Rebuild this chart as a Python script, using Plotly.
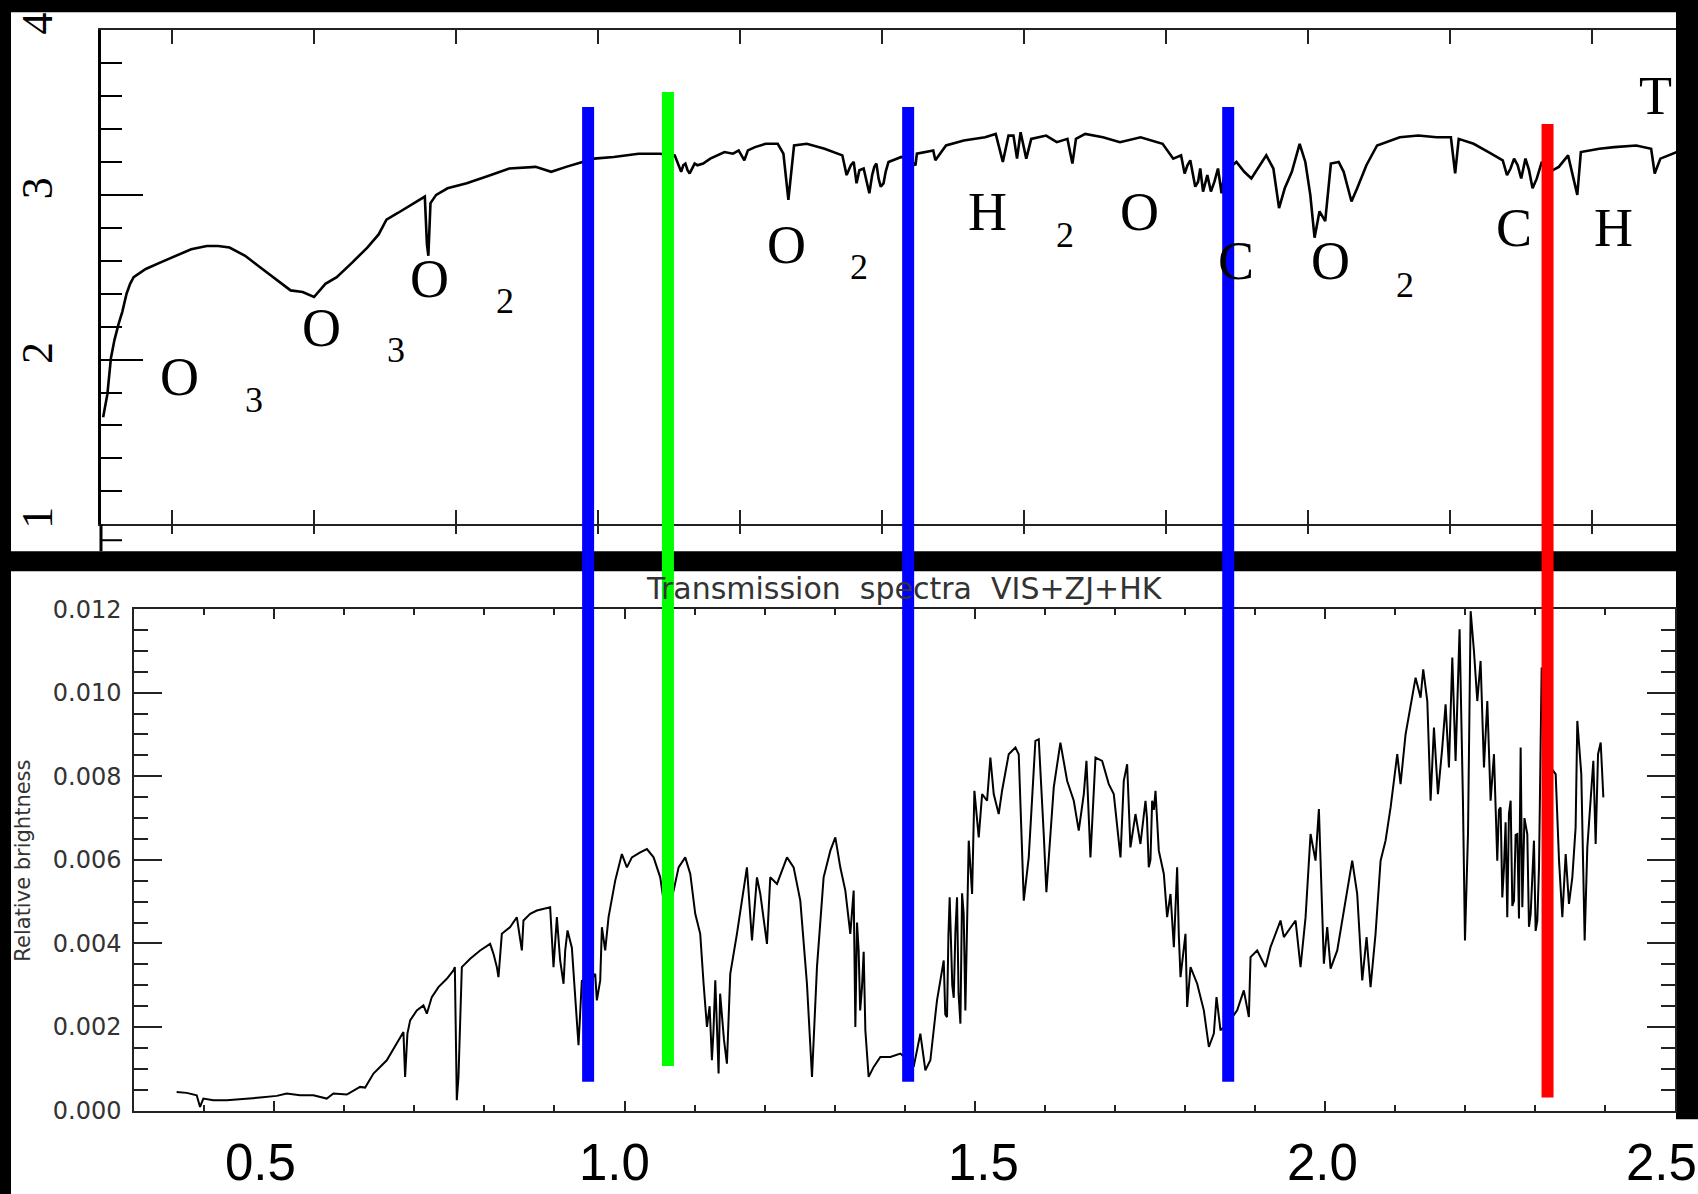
import plotly.graph_objects as go

W, H = 1698, 1194

# ---------------- data ----------------
# Upper panel: Earth spectrum with molecular bands (wavelength in micron, flux units of the original plot)
top_wavelength = [
    0.303, 0.309, 0.314, 0.319, 0.325, 0.330, 0.336, 0.341, 0.346, 0.363, 0.384, 0.406, 0.427, 0.449,
    0.465, 0.481, 0.503, 0.524, 0.546, 0.567, 0.584, 0.600, 0.616, 0.632, 0.654, 0.675, 0.691, 0.702,
    0.718, 0.740, 0.756, 0.759, 0.761, 0.764, 0.772, 0.788, 0.815, 0.842, 0.875, 0.912, 0.934, 0.955,
    0.977, 0.994, 1.022, 1.057, 1.087, 1.108, 1.120, 1.126, 1.132, 1.140, 1.148, 1.158, 1.178, 1.190,
    1.198, 1.206, 1.211, 1.221, 1.236, 1.253, 1.261, 1.268, 1.276, 1.294, 1.319, 1.344, 1.356, 1.364,
    1.368, 1.374, 1.382, 1.389, 1.395, 1.402, 1.409, 1.427, 1.440, 1.447, 1.449, 1.472, 1.475, 1.490,
    1.515, 1.545, 1.560, 1.570, 1.578, 1.585, 1.590, 1.595, 1.603, 1.610, 1.631, 1.646, 1.661, 1.668,
    1.673, 1.686, 1.711, 1.735, 1.764, 1.795, 1.821, 1.830, 1.837, 1.845, 1.852, 1.858, 1.868, 1.878,
    1.885, 1.899, 1.910, 1.920, 1.941, 1.951, 1.959, 1.967, 1.977, 1.988, 1.996, 2.003, 2.009, 2.016,
    2.024, 2.032, 2.043, 2.050, 2.061, 2.069, 2.082, 2.097, 2.129, 2.155, 2.181, 2.201, 2.207, 2.212,
    2.233, 2.254, 2.274, 2.285, 2.295, 2.306, 2.316, 2.329, 2.340, 2.353, 2.366, 2.379, 2.384, 2.410,
    2.431, 2.462, 2.483, 2.488, 2.496, 2.519,
]
top_flux = [
    1.65, 1.79, 2.01, 2.12, 2.22, 2.29, 2.40, 2.46, 2.50, 2.55, 2.59, 2.63, 2.67, 2.69,
    2.69, 2.68, 2.63, 2.56, 2.49, 2.42, 2.41, 2.38, 2.46, 2.50, 2.59, 2.68, 2.76, 2.85,
    2.89, 2.95, 2.99, 2.70, 2.63, 2.95, 3.00, 3.04, 3.07, 3.11, 3.16, 3.17, 3.14, 3.17,
    3.20, 3.22, 3.23, 3.25, 3.25, 3.24, 3.18, 3.15, 3.16, 3.18, 3.19, 3.22, 3.26, 3.25,
    3.27, 3.21, 3.27, 3.29, 3.31, 3.31, 3.25, 2.97, 3.30, 3.31, 3.28, 3.24, 3.18, 3.07,
    3.15, 3.16, 3.01, 3.17, 3.10, 3.07, 3.20, 3.23, 3.21, 3.18, 3.25, 3.27, 3.21, 3.30,
    3.33, 3.35, 3.37, 3.20, 3.36, 3.36, 3.22, 3.38, 3.22, 3.34, 3.36, 3.32, 3.34, 3.19,
    3.34, 3.37, 3.35, 3.32, 3.35, 3.31, 3.24, 3.18, 3.14, 3.08, 3.02, 3.12, 3.08, 3.01,
    3.15, 3.20, 3.14, 3.10, 3.24, 3.16, 2.92, 3.04, 3.14, 3.31, 3.20, 3.00, 2.74, 2.90,
    2.84, 3.19, 3.20, 3.14, 2.96, 3.04, 3.18, 3.30, 3.35, 3.36, 3.35, 3.35, 3.13, 3.34,
    3.31, 3.26, 3.21, 3.16, 3.18, 3.22, 3.04, 3.20, 3.14, 3.17, 3.24, 3.00, 3.26, 3.28,
    3.29, 3.30, 3.28, 3.13, 3.22, 3.26,
]
# extra hand-read points inside the dense absorption regions of the upper spectrum
top_noise_wavelength = [1.117, 1.123, 1.129, 1.136, 1.350, 1.360, 1.378, 1.386, 1.392, 1.398, 1.405,
                        1.810, 1.826, 1.834, 1.841, 1.848, 1.863, 1.873, 1.881,
                        2.280, 2.290, 2.300, 2.311, 2.322]
top_noise_flux = [3.14, 3.19, 3.13, 3.19, 3.12, 3.20, 3.08, 3.12, 3.19, 3.05, 3.14,
                  3.22, 3.13, 3.21, 3.05, 3.16, 3.02, 3.16, 3.10,
                  3.12, 3.22, 3.10, 3.15, 3.10]

# Lower panel: transmission spectrum VIS+ZJ+HK (wavelength in micron, relative brightness)
bottom_wavelength = [
    0.3605, 0.3748, 0.3891, 0.3939, 0.3986, 0.4129, 0.4319, 0.4557, 0.4796, 0.5034, 0.5176, 0.5367,
    0.5557, 0.5748, 0.5843, 0.6034, 0.6224, 0.6296, 0.6415, 0.6605, 0.6796, 0.6843, 0.6867, 0.6900,
    0.6939, 0.7034, 0.7129, 0.7177, 0.7248, 0.7343, 0.7462, 0.7557, 0.7577, 0.7605, 0.7629, 0.7677,
    0.7796, 0.7938, 0.8081, 0.8129, 0.8177, 0.8200, 0.8248, 0.8367, 0.8462, 0.8534, 0.8557, 0.8653,
    0.8748, 0.8843, 0.8938, 0.8986, 0.9034, 0.9081, 0.9129, 0.9153, 0.9186, 0.9248, 0.9296, 0.9343,
    0.9391, 0.9480, 0.9581, 0.9605, 0.9653, 0.9677, 0.9724, 0.9772, 0.9867, 0.9962, 1.0034, 1.0105,
    1.0224, 1.0320, 1.0415, 1.0510, 1.0558, 1.0624, 1.0701, 1.0772, 1.0867, 1.0939, 1.1010, 1.1081,
    1.1129, 1.1177, 1.1248, 1.1296, 1.1343, 1.1391, 1.1462, 1.1510, 1.1605, 1.1677, 1.1748, 1.1820,
    1.1891, 1.1939, 1.2034, 1.2081, 1.2177, 1.2320, 1.2415, 1.2510, 1.2605, 1.2677, 1.2748, 1.2843,
    1.2939, 1.3010, 1.3081, 1.3153, 1.3224, 1.3272, 1.3296, 1.3343, 1.3391, 1.3439, 1.3486, 1.3558,
    1.3653, 1.3796, 1.3939, 1.4050, 1.4129, 1.4224, 1.4296, 1.4367, 1.4462, 1.4558, 1.4605, 1.4643,
    1.4701, 1.4748, 1.4796, 1.4843, 1.4867, 1.4915, 1.4963, 1.4996, 1.5058, 1.5106, 1.5177, 1.5224,
    1.5272, 1.5343, 1.5391, 1.5486, 1.5582, 1.5629, 1.5701, 1.5772, 1.5867, 1.5915, 1.5986, 1.6024,
    1.6082, 1.6129, 1.6224, 1.6320, 1.6415, 1.6486, 1.6558, 1.6596, 1.6653, 1.6725, 1.6820, 1.6915,
    1.6986, 1.7082, 1.7129, 1.7177, 1.7224, 1.7296, 1.7367, 1.7439, 1.7486, 1.7534, 1.7582, 1.7629,
    1.7701, 1.7748, 1.7796, 1.7844, 1.7891, 1.7939, 1.8010, 1.8034, 1.8082, 1.8177, 1.8272, 1.8344,
    1.8415, 1.8453, 1.8510, 1.8620, 1.8748, 1.8843, 1.8915, 1.8939, 1.9034, 1.9153, 1.9224, 1.9367,
    1.9415, 1.9510, 1.9582, 1.9653, 1.9725, 1.9796, 1.9867, 1.9915, 1.9939, 1.9986, 2.0034, 2.0082,
    2.0177, 2.0272, 2.0320, 2.0391, 2.0462, 2.0534, 2.0596, 2.0653, 2.0724, 2.0796, 2.0867, 2.0939,
    2.1034, 2.1081, 2.1153, 2.1224, 2.1296, 2.1367, 2.1405, 2.1463, 2.1510, 2.1558, 2.1615, 2.1677,
    2.1724, 2.1772, 2.1820, 2.1867, 2.1924, 2.1972, 2.2001, 2.2044, 2.2082, 2.2129, 2.2177, 2.2224,
    2.2272, 2.2320, 2.2367, 2.2415, 2.2462, 2.2486, 2.2510, 2.2534, 2.2558, 2.2581, 2.2605, 2.2629,
    2.2653, 2.2677, 2.2701, 2.2724, 2.2748, 2.2772, 2.2796, 2.2820, 2.2850, 2.2891, 2.2915, 2.2939,
    2.2986, 2.3010, 2.3034, 2.3058, 2.3096, 2.3176, 2.3224, 2.3296, 2.3344, 2.3391, 2.3439, 2.3486,
    2.3534, 2.3581, 2.3605, 2.3662, 2.3710, 2.3748, 2.3796, 2.3834, 2.3867, 2.3901, 2.3939, 2.3977,
]
bottom_brightness = [
    0.000449, 0.000426, 0.000370, 0.000090, 0.000290, 0.000250, 0.000250, 0.000275, 0.000314, 0.000354, 0.000410, 0.000370,
    0.000370, 0.000290, 0.000410, 0.000386, 0.000569, 0.000553, 0.000888, 0.001206, 0.001723, 0.001883, 0.000808, 0.001843,
    0.002161, 0.002400, 0.002519, 0.002320, 0.002718, 0.002957, 0.003156, 0.003355, 0.003435, 0.000250, 0.000808, 0.003435,
    0.003634, 0.003833, 0.003992, 0.003753, 0.003435, 0.003196, 0.004231, 0.004391, 0.004629, 0.003833, 0.004550, 0.004709,
    0.004788, 0.004828, 0.004868, 0.003435, 0.004630, 0.003594, 0.003037, 0.003833, 0.004311, 0.003900, 0.002639, 0.001564,
    0.003117, 0.003000, 0.003276, 0.002639, 0.003117, 0.004390, 0.003833, 0.004630, 0.005504, 0.006140, 0.005822, 0.006061,
    0.006181, 0.006260, 0.006061, 0.005583, 0.005026, 0.004800, 0.005265, 0.005822, 0.006061, 0.005663, 0.004709, 0.004231,
    0.003037, 0.002002, 0.001206, 0.003117, 0.000888, 0.002240, 0.001126, 0.003276, 0.004231, 0.005026, 0.005822, 0.004072,
    0.005583, 0.005185, 0.003992, 0.005583, 0.005424, 0.006061, 0.005822, 0.005026, 0.003037, 0.000808, 0.003435, 0.005583,
    0.006221, 0.006539, 0.005822, 0.005265, 0.004231, 0.005265, 0.002002, 0.003833, 0.002957, 0.001922, 0.000808, 0.001047,
    0.001286, 0.001286, 0.001365, 0.001200, 0.001047, 0.001843, 0.000967, 0.001206, 0.002639, 0.003594, 0.002240, 0.005106,
    0.002700, 0.005106, 0.002082, 0.004709, 0.002400, 0.006460, 0.005185, 0.007654, 0.006539, 0.007574, 0.007415, 0.008449,
    0.007574, 0.007097, 0.007654, 0.008529, 0.008688, 0.008529, 0.005026, 0.006061, 0.008847, 0.008887, 0.006619, 0.005225,
    0.006619, 0.007733, 0.008807, 0.007893, 0.007415, 0.006699, 0.007574, 0.008369, 0.006061, 0.008449, 0.008369, 0.007813,
    0.007574, 0.006061, 0.007893, 0.008290, 0.006300, 0.007097, 0.006380, 0.007415, 0.005822, 0.007415, 0.007654, 0.006221,
    0.005663, 0.004630, 0.005185, 0.003912, 0.005822, 0.003196, 0.004231, 0.002480, 0.003435, 0.003037, 0.002400, 0.001524,
    0.001843, 0.002718, 0.001922, 0.002100, 0.002400, 0.002877, 0.002240, 0.003674, 0.003833, 0.003435, 0.003912, 0.004549,
    0.004151, 0.004390, 0.004549, 0.003435, 0.004630, 0.006619, 0.005982, 0.007216, 0.005822, 0.003515, 0.004390, 0.003400,
    0.003833, 0.004800, 0.005265, 0.005982, 0.005185, 0.003117, 0.004151, 0.002957, 0.004231, 0.005982, 0.006460, 0.007256,
    0.008529, 0.007813, 0.009006, 0.009643, 0.010360, 0.009882, 0.010560, 0.009800, 0.007415, 0.009166, 0.007574, 0.008688,
    0.009723, 0.008211, 0.010840, 0.008369, 0.011520, 0.007415, 0.004072, 0.006619, 0.011950, 0.011000, 0.009800, 0.010760,
    0.008211, 0.009800, 0.007415, 0.008529, 0.005982, 0.007200, 0.007256, 0.005100, 0.005822, 0.006900, 0.004630, 0.007100,
    0.007415, 0.004900, 0.005026, 0.006600, 0.006619, 0.004600, 0.008688, 0.004868, 0.007000, 0.006619, 0.004400, 0.004709,
    0.006460, 0.004300, 0.004549, 0.005822, 0.010600, 0.008500, 0.008211, 0.008051, 0.005982, 0.004630, 0.006141, 0.004948,
    0.005583, 0.006778, 0.009325, 0.008051, 0.004072, 0.006300, 0.007415, 0.008369, 0.006380, 0.008529, 0.008807, 0.007495,
]
# extra hand-read points inside dense noisy stretches of the lower spectrum
bottom_noise_wavelength = [1.1215, 1.1270, 1.1320, 1.1365, 1.1420, 1.3320, 1.3365, 1.3415, 1.4580, 1.4625,
                           1.4680, 1.4725, 1.4770, 1.4820, 1.7460, 1.7510, 1.7560, 1.7860, 1.7915]
bottom_noise_brightness = [0.00250, 0.00190, 0.00200, 0.00280, 0.00170, 0.00450, 0.00240, 0.00380, 0.00230, 0.00420,
                           0.00300, 0.00430, 0.00280, 0.00520, 0.00700, 0.00600, 0.00720, 0.00450, 0.00420]

# Coloured marker lines (wavelength in micron)
band_wavelengths = [0.948, 1.062, 1.405, 1.862, 2.318]
band_colors = ["#0000ff", "#00ff00", "#0000ff", "#0000ff", "#ff0000"]

# Molecule labels in the upper panel (text, wavelength, flux)
molecule_text = ["O", "3", "O", "3", "O", "2", "O", "2", "H", "2", "O", "C", "O", "2", "C", "H", "T"]
molecule_wl = [0.410, 0.516, 0.611, 0.716, 0.763, 0.869, 1.266, 1.368, 1.549, 1.658, 1.763,
               1.899, 2.032, 2.137, 2.290, 2.430, 2.489]
molecule_flux = [1.897, 1.755, 2.194, 2.061, 2.491, 2.355, 2.695, 2.564, 2.897, 2.756, 2.893,
                 2.600, 2.600, 2.455, 2.796, 2.796, 3.600]
molecule_is_sub = [False, True, False, True, False, True, False, True, False, True, False,
                   False, False, True, False, False, False]

top_ytick_vals = [1, 2, 3, 4]
top_ytick_text = ["1", "2", "3", "4"]
bottom_ytick_vals = [0.000, 0.002, 0.004, 0.006, 0.008, 0.010, 0.012]
bottom_ytick_text = ["0.000", "0.002", "0.004", "0.006", "0.008", "0.010", "0.012"]
big_xtick_text = ["0.5", "1.0", "1.5", "2.0", "2.5"]
big_xtick_pos = [0.480, 0.986, 1.513, 1.997, 2.481]

title_text = "Transmission\u00a0\u00a0spectra\u00a0\u00a0VIS+ZJ+HK"
ylabel_text = "Relative brightness"

# merge the hand-read extra points into each series (sorted by wavelength)
top_pts = sorted(zip(top_wavelength + top_noise_wavelength, top_flux + top_noise_flux))
top_x = [p[0] for p in top_pts]
top_y = [p[1] for p in top_pts]
bot_pts = sorted(zip(bottom_wavelength + bottom_noise_wavelength, bottom_brightness + bottom_noise_brightness))
bot_x = [p[0] for p in bot_pts]
bot_y = [p[1] for p in bot_pts]

# ---------------- helpers (pixel -> paper) ----------------
# The page renderer draws the figure's vertical extent slightly compressed (observed ~0.975,
# offset ~15.8 px); positions below are pre-compensated so the final picture lands on the reference.
K_Y = 0.975
Y_OFF = 15.8


def px(x):
    return x / W


def py(y):
    return 1 - ((y - Y_OFF) / K_Y) / H


fig = go.Figure()

fig.add_trace(go.Scatter(
    x=top_x, y=top_y, mode="lines",
    line=dict(color="black", width=2.6), xaxis="x", yaxis="y",
    showlegend=False, hoverinfo="skip"))

fig.add_trace(go.Scatter(
    x=bot_x, y=bot_y, mode="lines",
    line=dict(color="black", width=2.0), xaxis="x2", yaxis="y2",
    showlegend=False, hoverinfo="skip"))

# empty trace that carries the overlay axis drawing the outer half of the upper panel's x ticks
fig.add_trace(go.Scatter(x=[], y=[], mode="lines", xaxis="x3", yaxis="y",
                         showlegend=False, hoverinfo="skip"))

shapes = [
    dict(type="rect", xref="paper", yref="paper", x0=px(11), x1=px(1676), y0=py(550), y1=py(10),
         fillcolor="white", line=dict(width=0), layer="below"),
    dict(type="rect", xref="paper", yref="paper", x0=px(11), x1=px(1676), y0=py(1200), y1=py(570),
         fillcolor="white", line=dict(width=0), layer="below"),
    dict(type="rect", xref="paper", yref="paper", x0=px(1675), x1=1, y0=py(1200), y1=py(1119),
         fillcolor="white", line=dict(width=0), layer="below"),
    # left axis of the upper panel continues below y=1 down to the black separator
    dict(type="line", xref="paper", yref="paper", x0=px(101), x1=px(101), y0=py(550), y1=py(523),
         line=dict(color="black", width=3), layer="above"),
    dict(type="line", xref="paper", yref="paper", x0=px(101), x1=px(122), y0=py(539), y1=py(539),
         line=dict(color="black", width=2), layer="above"),
]
band_top_px = [105, 90, 105, 105, 122]
band_bottom_px = [1081.5, 1065.7, 1081.5, 1081.5, 1097.3]
for wl, col, t, b in zip(band_wavelengths, band_colors, band_top_px, band_bottom_px):
    shapes.append(dict(type="line", xref="x2", yref="paper", x0=wl, x1=wl, y0=py(b), y1=py(t),
                       line=dict(color=col, width=12), layer="above"))

annotations = [
    dict(text=title_text, xref="paper", yref="paper", x=px(904), y=py(587), showarrow=False,
         xanchor="center", yanchor="middle", font=dict(family="DejaVu Sans", size=30, color="#333")),
    dict(text=ylabel_text, xref="paper", yref="paper", x=px(23), y=py(860), showarrow=False,
         textangle=-90, xanchor="center", yanchor="middle",
         font=dict(family="DejaVu Sans", size=21, color="#333")),
]
for t, xv in zip(big_xtick_text, big_xtick_pos):
    annotations.append(dict(text=t, xref="x2", yref="paper", x=xv, y=py(1162), showarrow=False,
                            xanchor="center", yanchor="middle",
                            font=dict(family="Liberation Sans", size=51, color="black")))
for t, xv, yv, sub in zip(molecule_text, molecule_wl, molecule_flux, molecule_is_sub):
    annotations.append(dict(text=t, xref="x", yref="y", x=xv, y=yv, showarrow=False,
                            xanchor="center", yanchor="middle",
                            font=dict(family="Liberation Serif", size=36 if sub else 54, color="black")))

fig.update_layout(
    width=W, height=H,
    margin=dict(l=0, r=0, t=0, b=0),
    paper_bgcolor="black", plot_bgcolor="white",
    showlegend=False,
    shapes=shapes, annotations=annotations,
    xaxis=dict(domain=[px(101), px(1676)], range=[0.3, 2.518], anchor="y",
               showline=True, linecolor="#222", linewidth=2, mirror="ticks",
               ticks="inside", tick0=0.4, dtick=0.2, ticklen=14, tickwidth=2, tickcolor="#222",
               showticklabels=False, showgrid=False, zeroline=False),
    xaxis3=dict(overlaying="x", anchor="y", side="bottom", range=[0.3, 2.518],
                showline=False, ticks="outside", tick0=0.4, dtick=0.2, ticklen=9, tickwidth=2,
                tickcolor="#222", showticklabels=False, showgrid=False, zeroline=False),
    yaxis=dict(domain=[py(523), py(28)], range=[1, 4], anchor="x",
               showline=True, linecolor="black", linewidth=3,
               ticks="inside", tickmode="array", tickvals=top_ytick_vals, ticktext=top_ytick_text,
               ticklen=42, tickwidth=2, tickcolor="black",
               minor=dict(ticks="inside", tickmode="linear", tick0=1, dtick=0.2, ticklen=21,
                          tickwidth=2, tickcolor="black", showgrid=False),
               tickangle=-90, ticklabelstandoff=28,
               tickfont=dict(family="Liberation Serif", size=44, color="black"),
               showgrid=False, zeroline=False),
    xaxis2=dict(domain=[px(134.3), px(1675)], range=[0.3, 2.5], anchor="y2",
                showline=True, linecolor="#222", linewidth=2, mirror="ticks",
                ticks="inside", tick0=0, dtick=0.5, ticklen=10, tickwidth=2, tickcolor="#222",
                minor=dict(ticks="inside", tick0=0, dtick=0.1, ticklen=6, tickwidth=2,
                           tickcolor="#222", showgrid=False),
                showticklabels=False, showgrid=False, zeroline=False),
    yaxis2=dict(domain=[py(1110.5), py(608)], range=[0, 0.012], anchor="x2",
                showline=True, linecolor="#222", linewidth=2, mirror="ticks",
                ticks="inside", tickmode="array", tickvals=bottom_ytick_vals, ticktext=bottom_ytick_text,
                ticklen=28, tickwidth=2, tickcolor="#222",
                minor=dict(ticks="inside", tickmode="linear", tick0=0, dtick=0.0005, ticklen=14,
                           tickwidth=2, tickcolor="#222", showgrid=False),
                ticklabelstandoff=6,
                tickfont=dict(family="DejaVu Sans", size=24, color="#333"),
                showgrid=False, zeroline=False),
)

# Pin the figure to the top-left corner of the page (no default body margin / scrolling)
page_fix = (
    "document.documentElement.style.margin='0';"
    "document.documentElement.style.overflow='hidden';"
    "document.documentElement.style.background='#fff';"
    "document.body.style.margin='0';"
    "document.body.style.padding='0';"
    "document.body.style.overflow='hidden';"
    "document.body.style.background='#fff';"
    "var gd=document.getElementById('{plot_id}');"
    "gd.style.position='fixed';gd.style.left='0px';gd.style.top='0px';"
)

fig.write_html("out.html", post_script=page_fix, config={"displayModeBar": False})
